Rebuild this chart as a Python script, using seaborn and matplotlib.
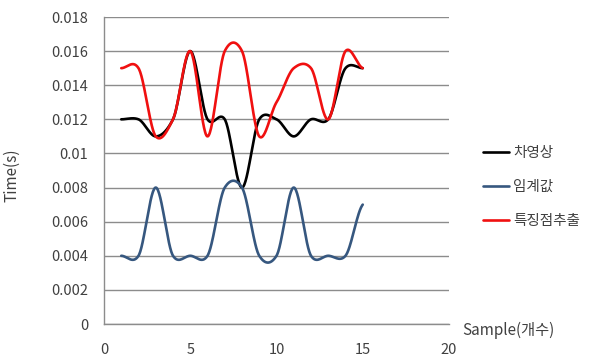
import numpy as np
import pandas as pd
import matplotlib
matplotlib.use("Agg")
import matplotlib.pyplot as plt
import seaborn as sns

# --- Data ---
samples = list(range(1, 16))
diff_image = [0.012, 0.012, 0.011, 0.012, 0.016, 0.012, 0.012, 0.008,
              0.012, 0.012, 0.011, 0.012, 0.012, 0.015, 0.015]
threshold = [0.004, 0.004, 0.008, 0.004, 0.004, 0.004, 0.008, 0.008,
             0.004, 0.004, 0.008, 0.004, 0.004, 0.004, 0.007]
feature_pts = [0.015, 0.015, 0.011, 0.012, 0.016, 0.011, 0.016, 0.016,
               0.011, 0.013, 0.015, 0.015, 0.012, 0.016, 0.015]
series_names = ["차영상", "임계값", "특징점추출"]
series_colors = ["#000000", "#36577F", "#F01010"]


def smooth(xs, ys, n=30, k=0.8):
    """Excel-like smoothed line: cardinal spline through the data points."""
    xs = np.asarray(xs, float)
    ys = np.asarray(ys, float)
    px = np.concatenate([[2 * xs[0] - xs[1]], xs, [2 * xs[-1] - xs[-2]]])
    py = np.concatenate([[ys[0]], ys, [ys[-1]]])
    out_x, out_y = [], []
    t = np.linspace(0, 1, n, endpoint=False)
    for i in range(1, len(px) - 2):
        p0, p1, p2, p3 = py[i - 1], py[i], py[i + 1], py[i + 2]
        m1 = k * (p2 - p0) / 2
        m2 = k * (p3 - p1) / 2
        h00 = 2 * t**3 - 3 * t**2 + 1
        h10 = t**3 - 2 * t**2 + t
        h01 = -2 * t**3 + 3 * t**2
        h11 = t**3 - t**2
        out_y.extend(h00 * p1 + h10 * m1 + h01 * p2 + h11 * m2)
        out_x.extend(px[i] + t * (px[i + 1] - px[i]))
    out_x.append(xs[-1])
    out_y.append(ys[-1])
    return out_x, out_y


frames = []
for name, vals in zip(series_names, [diff_image, threshold, feature_pts]):
    sx, sy = smooth(samples, vals)
    frames.append(pd.DataFrame({"x": sx, "y": sy, "series": name}))
df = pd.concat(frames, ignore_index=True)

sns.set_style("white")
plt.rcParams['font.family'] = ['Noto Sans CJK KR', 'DejaVu Sans']

fig = plt.figure(figsize=(5.92, 3.58), dpi=100)
ax = fig.add_axes([104 / 592, 1 - 324 / 358, (449 - 104) / 592, (324 - 17) / 358])

sns.lineplot(data=df, x="x", y="y", hue="series", hue_order=series_names,
             palette=series_colors, linewidth=1.9, sort=False, estimator=None,
             ax=ax, legend=True)

ax.set_xlim(0, 20)
ax.set_ylim(0, 0.018)
ax.set_xticks([0, 5, 10, 15, 20])
ax.set_yticks(np.arange(0, 0.0181, 0.002))
ax.set_yticklabels(["0", "0.002", "0.004", "0.006", "0.008", "0.01",
                    "0.012", "0.014", "0.016", "0.018"])
ax.yaxis.grid(True, color="#8C8C8C", linewidth=1.0)
ax.xaxis.grid(False)
ax.set_axisbelow(True)

for side in ["top", "right"]:
    ax.spines[side].set_visible(False)
for side in ["left", "bottom"]:
    ax.spines[side].set_color("#8C8C8C")
    ax.spines[side].set_linewidth(1.0)

ax.tick_params(axis="both", direction="out", length=5, width=1.0,
               color="#8C8C8C", labelsize=10.5, labelcolor="#404040")
ax.tick_params(axis="y", pad=6.5)
ax.tick_params(axis="x", pad=8.5)

ax.set_xlabel("")
ax.set_ylabel("Time(s)", fontsize=11, color="#404040")
ax.yaxis.set_label_coords((20 - 104) / 345, (324 - 175) / 307)
fig.text(462 / 592, 1 - 330 / 358, "Sample(개수)", fontsize=11,
         color="#404040", ha="left", va="center")

handles, labels = ax.get_legend_handles_labels()
ax.legend(handles=handles, labels=labels, loc="center left",
          bbox_to_anchor=(1.06, 0.446), frameon=False, fontsize=10.5,
          handlelength=1.8, handletextpad=0.3, labelspacing=1.4,
          labelcolor="#404040")

fig.savefig("out.png", dpi=100)
